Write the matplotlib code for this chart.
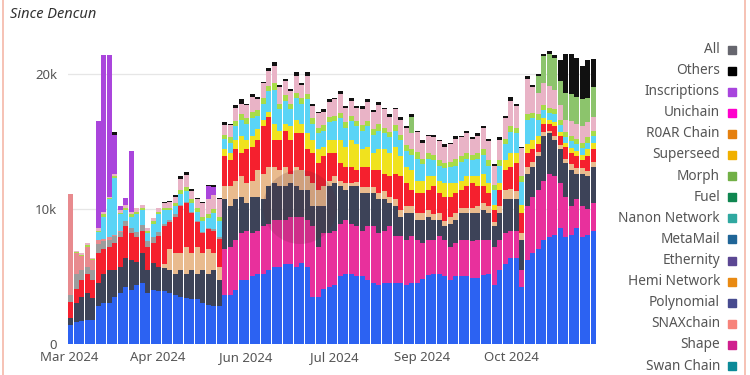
import numpy as np
import matplotlib
matplotlib.use("Agg")
import matplotlib.pyplot as plt
from matplotlib.lines import Line2D
from matplotlib.patches import Ellipse

plt.rcParams["font.family"] = ["Noto Sans", "DejaVu Sans"]

# each bar ~2.8 days since Dencun (2024-03-13), values in thousands of blobs
BIN_DAYS = 2.8

blue = [1.4, 1.65, 1.7, 1.8, 1.8, 2.8, 3.0, 3.0, 3.5, 3.75,
        4.2, 4.0, 4.4, 4.5, 3.75, 4.0, 3.9, 3.9, 3.75, 3.6,
        3.5, 3.4, 3.3, 3.3, 3.0, 2.9, 2.8, 2.8, 3.65, 3.6,
        4.0, 4.7, 4.7, 5.0, 5.2, 5.2, 5.5, 5.7, 5.7, 5.9,
        5.9, 5.7, 6.0, 5.7, 3.5, 3.5, 4.1, 4.25, 4.4, 5.0,
        5.2, 5.2, 5.0, 5.0, 4.7, 4.5, 4.4, 4.5, 4.5, 4.5,
        4.5, 4.4, 4.5, 4.5, 4.8, 5.1, 5.2, 5.2, 5.0, 4.7,
        5.0, 5.0, 5.0, 4.9, 4.9, 5.1, 5.2, 4.4, 5.5, 5.9,
        6.4, 6.4, 4.2, 6.2, 6.7, 7.0, 7.7, 7.9, 8.1, 8.6,
        7.9, 8.1, 8.6, 7.9, 8.1, 8.4]
magenta = [0] * 28 + [
        3.35, 3.6, 3.7, 3.5, 3.7, 3.2, 3.2, 3.5, 3.4, 3.5,
        3.5, 3.3, 3.5, 3.7, 3.4, 3.5, 5.2, 3.7, 4.1, 3.95,
        4.0, 3.9, 4.0, 3.7, 3.7, 3.4, 4.0, 4.2, 3.8, 3.9,
        4.2, 3.5, 3.5, 3.3, 3.5, 3.2, 2.7, 2.6, 2.5, 2.8,
        2.7, 2.5, 2.5, 2.7, 2.7, 2.7, 2.8, 2.6, 2.5, 2.8,
        2.2, 2.3, 2.0, 2.0, 1.3, 4.0, 4.2, 4.4, 4.4, 4.7,
        4.3, 3.3, 3.0, 2.1, 2.1, 2.3, 1.9, 2.0]
slate = [0.5, 1.35, 1.8, 1.95, 1.6, 1.7, 2.2, 2.5, 2.0, 1.95,
         2.2, 2.2, 1.7, 2.2, 1.75, 2.0, 1.8, 1.7, 1.75, 1.6,
         2.0, 1.8, 2.2, 1.9, 2.5, 2.3, 2.7, 1.9, 3.7, 3.0,
         3.0, 2.7, 2.0, 2.7, 2.5, 2.0, 2.8, 2.7, 2.5, 2.5,
         2.5, 2.3, 2.0, 2.2, 1.5, 3.0, 2.0, 3.5, 3.5, 2.8,
         2.2, 2.8, 3.0, 2.8, 2.5, 2.5, 2.5, 2.3, 1.7, 2.2,
         1.4, 2.0, 1.7, 1.5, 1.7, 1.7, 1.5, 1.2, 1.0, 1.7,
         1.7, 2.0, 2.0, 2.1, 2.0, 2.2, 2.0, 1.5, 2.0, 2.5,
         2.3, 2.3, 2.2, 2.4, 2.2, 2.5, 3.3, 3.0, 2.7, 2.5,
         2.5, 2.7, 1.9, 2.4, 2.4, 2.7]
tan = [0] * 17 + [
       0.3, 1.5, 1.5, 1.2, 2.0, 1.2, 2.0,
       1.2, 1.8, 1.2, 1.0, 1.0, 1.5, 1.4, 1.5, 1.5, 1.2,
       2.0, 1.9, 1.4, 1.2, 1.2, 1.4, 0.7, 1.4, 1.5, 1.0,
       1.7, 1.2, 1.5, 0.4, 0.5, 0.4, 0.5, 0.2, 0.3, 0.4,
       0.4, 0.4, 0.5, 0.6, 0.5, 0.5, 0.5, 0.5, 0.5, 0.5,
       0.5, 0.5, 0.4, 0.5, 0.4, 0.5, 0.5, 0.4, 0.4, 0.4,
       0.5, 0.5, 0.5, 0.3, 0.5, 0.7, 0.8, 0.6, 0.5, 0.5,
       0.4, 0.3, 0.3, 0.2, 0.3, 0.3, 0.3, 0.4, 0.4, 0.4,
       0.4, 0.4]
red = [1.2, 1.1, 1.2, 1.45, 1.3, 2.2, 1.8, 1.7, 2.0, 2.2,
       2.3, 2.0, 1.8, 1.7, 1.7, 1.5, 2.3, 2.8, 2.0, 2.7,
       3.5, 3.2, 3.0, 1.8, 1.5, 1.5, 1.7, 2.1, 2.2, 1.9,
       2.3, 1.7, 2.5, 2.5, 2.2, 3.5, 3.7, 2.0, 2.2, 2.7,
       2.5, 2.5, 2.7, 2.0, 2.2, 2.0, 2.2, 2.0, 1.7, 1.3,
       1.2, 1.2, 0.9, 1.5, 1.5, 1.3, 1.7, 1.3, 1.5, 1.9,
       2.5, 1.7, 1.2, 1.5, 1.5, 1.5, 2.1, 1.5, 1.8, 1.5,
       1.5, 1.3, 1.6, 1.8, 1.5, 1.3, 1.0, 0.9, 1.2, 1.5,
       1.6, 2.1, 1.5, 1.0, 0.9, 0.6, 0.6, 0.5, 0.7, 0.7,
       0.9, 0.8, 0.9, 0.6, 1.1, 0.9]
yellow = [0] * 28 + [
          0.5, 0.5, 0.7, 1.3, 0.7, 0.8, 0.8, 0.5, 0.4, 1.2,
          0.7, 0.5, 1.0, 1.0, 0.7, 1.2, 1.0, 1.0, 0.7, 1.0,
          1.0, 1.7, 1.5, 2.0, 1.9, 1.3, 1.5, 1.2, 1.5, 1.8,
          1.7, 2.0, 1.5, 1.2, 1.5, 0.9, 0.9, 1.0, 0.7, 0.9,
          1.0, 1.0, 0.7, 0.7, 0.7, 0.5, 0.7, 0.9, 0.7, 0.4,
          0.5, 0.7, 1.0, 0.7, 0.6, 0.7, 0.7, 0.6, 0.4, 0.3,
          0.3, 0.3, 0.3, 0.4, 0.4, 0.4, 0.5, 0.5]
gray = [0.5, 1.1, 0.8, 0.5, 0.8, 0.7, 0.6, 0.5, 0.5, 0.4,
        0.4, 0.4, 0.4, 0.4, 0.4, 0.4, 0.3, 0.2, 0.2, 0.2,
        0.1, 0.1, 0.1, 0.1, 0.1, 0.1, 0.1, 0.1] + [0] * 68
salmon = [7.5, 1.5, 1.0, 1.5, 0.7, 0.3, 0.2, 0.2, 0.1, 0.1] + [0] * 86
misc = [0, 0.1, 0.1, 0.2, 0.1, 0.2, 0.2, 0.1, 0.2, 0.2,
        0.2, 0.2, 0.3, 0.2, 0.2, 0.2, 0.3, 0.3, 0.4, 0.5,
        0.8, 0.9, 0.6, 0.6, 1.0, 1.1, 1.0, 1.3, 0.7, 0.9,
        1.0, 0.8, 1.0, 1.1, 0.8, 1.1, 1.1, 1.3, 1.2, 1.1,
        0.9, 1.2, 1.0, 1.3, 0.9, 1.1, 1.0, 1.1, 1.2, 1.4,
        1.1, 1.1, 1.0, 1.2, 1.4, 1.3, 1.4, 1.4, 1.1, 1.2,
        1.1, 1.3, 1.2, 1.5, 1.2, 1.3, 1.3, 1.4, 1.2, 1.3,
        1.5, 1.4, 1.5, 1.2, 1.3, 1.6, 1.4, 1.4, 1.5, 1.5,
        1.9, 1.6, 2.1, 2.6, 1.9, 1.6, 1.6, 1.6, 1.4, 1.1,
        0.9, 1.1, 1.1, 1.2, 1.1, 1.0]
lime = [0, 0.1, 0.1, 0.1, 0.1, 0.1, 0.2, 0.1, 0.1, 0.1,
        0.2, 0.2, 0.2, 0.2, 0.2, 0.2, 0.2, 0.2, 0.2, 0.2,
        0.3, 0.3, 0.3, 0.3, 0.3, 0.3, 0.3, 0.3, 0.3, 0.4,
        0.4, 0.4, 0.4, 0.5, 0.4, 0.4, 0.4, 0.5, 0.4, 0.4,
        0.4, 0.4, 0.4, 0.4, 0.4, 0.4, 0.4, 0.4, 0.4, 0.4,
        0.4, 0.4, 0.4, 0.4, 0.4, 0.4, 0.5, 0.4, 0.4, 0.4,
        0.4, 0.4, 0.4, 0.5, 0.4, 0.4, 0.4, 0.4, 0.4, 0.4,
        0.5, 0.4, 0.4, 0.4, 0.4, 0.4, 0.4, 0.4, 0.4, 0.4,
        0.4, 0.4, 0.4, 0.4, 0.4, 0.4, 0.4, 0.4, 0.4, 0.4,
        0.4, 0.4, 0.4, 0.4, 0.4, 0.4]
cyan = [0, 0, 0, 0, 0, 0.6, 1.6, 2.8, 4.2, 1.2,
        0.8, 0.8, 1.3, 1.1, 0.6, 1.0, 1.3, 1.0, 0.7, 0.6,
        0.8, 0.8, 0.6, 0.7, 0.8, 0.7, 1.2, 1.2, 0.8, 0.8,
        1.0, 1.2, 1.2, 1.3, 1.0, 1.2, 1.5, 2.5, 1.6, 1.7,
        1.3, 1.6, 1.5, 2.5, 1.2, 1.2, 1.2, 1.3, 1.4, 1.6,
        1.4, 1.4, 1.3, 1.4, 1.5, 1.4, 1.4, 1.2, 1.2, 1.2,
        1.2, 1.2, 1.1, 1.6, 1.2, 1.3, 1.2, 1.1, 1.1, 1.2,
        1.3, 1.4, 1.3, 1.2, 1.3, 1.4, 1.3, 1.1, 1.3, 1.2,
        1.6, 1.5, 1.7, 1.8, 1.6, 1.2, 0.6, 0.5, 0.6, 0.5,
        0.4, 0.5, 0.5, 0.5, 0.5, 0.5]
morph = [0] * 62 + [1.2] + [0] * 22 + [1.2, 2.0, 2.4, 2.4, 1.8, 2.0, 2.0, 2.0, 2.0, 1.8, 2.2]
inscriptions = [0] * 5 + [7.9, 11.6, 10.5, 2.9, 0.3, 0.5, 4.5] + [0] * 13 + [1.0, 0.6] + [0] * 69
others = [0, 0, 0, 0, 0, 0, 0, 0, 0.2, 0,
          0, 0, 0, 0, 0, 0, 0, 0.1, 0.1, 0.1,
          0.2, 0.2, 0.15, 0.1, 0.1, 0.1, 0.15, 0.1, 0.2, 0.1,
          0.2, 0.3, 0.1, 0.2, 0.2, 0.1, 0.2, 0.3, 0.2, 0.1,
          0.2, 0.3, 0.1, 0.3, 0.2, 0.1, 0.2, 0.2, 0.1, 0.2,
          0.1, 0.2, 0.1, 0.2, 0.2, 0.1, 0.2, 0.1, 0.2, 0.1,
          0.2, 0.1, 0.2, 0.1, 0.2, 0.1, 0.2, 0.1, 0.2, 0.1,
          0.2, 0.1, 0.2, 0.1, 0.2, 0.1, 0.2, 0.1, 0.2, 0.2,
          0.3, 0.2, 0.1, 0.2, 0.2, 0.2, 0.2, 0.2, 0.2, 1.5,
          2.9, 3.0, 2.9, 2.5, 2.8, 2.1]

# stacking order, bottom to top
layers = [
    (blue, "#2c62f2"), (magenta, "#e8309c"), (slate, "#3d4358"),
    (tan, "#e9bb8e"), (red, "#f5202e"), (yellow, "#f0e21e"),
    (gray, "#9c9c9c"), (salmon, "#e88a8e"), (cyan, "#5ad4f6"),
    (lime, "#a8dc48"), (misc, "#e9b3c6"), (morph, "#8cc46c"),
    (inscriptions, "#aa45dc"), (others, "#111111"),
]

legend_names = ["All", "Others", "Inscriptions", "Unichain", "R0AR Chain", "Superseed",
                "Morph", "Fuel", "Nanon Network", "MetaMail", "Ethernity",
                "Hemi Network", "Polynomial", "SNAXchain", "Shape", "Swan Chain"]
legend_colors = ["#66666e", "#000000", "#a844dd", "#ff00cc", "#e5800f", "#f0b000",
                 "#72b046", "#0f8650", "#2fa8a0", "#1f6597", "#5b4793",
                 "#e98a12", "#474b8f", "#f7837a", "#d01f8e", "#0b8a98"]

W, H = 750, 375
fig = plt.figure(figsize=(7.5, 3.75), dpi=100)
ax = fig.add_axes([68 / W, 1 - 344 / H, (596 - 68) / W, (344 - 40) / H])

n = len(blue)
x = (np.arange(n) + 0.5) * BIN_DAYS
bottom = np.zeros(n)
for vals, col in layers:
    v = np.asarray(vals, float)
    ax.bar(x, v, width=BIN_DAYS * 0.86, bottom=bottom, color=col, linewidth=0, zorder=2)
    bottom += v

ax.set_xlim(0, n * BIN_DAYS)
ax.set_ylim(0, 22.5)
ax.set_yticks([0, 10, 20])
ax.set_yticklabels(["0", "10k", "20k"])
ax.set_xticks([0.5, 45.5, 90.5, 135.5, 180.5, 225.5])
ax.set_xticklabels(["Mar 2024", "Apr 2024", "Jun 2024", "Jul 2024", "Sep 2024", "Oct 2024"])
ax.tick_params(length=0, labelsize=9.5, labelcolor="#555555")
ax.tick_params(axis="y", pad=8)
ax.tick_params(axis="x", pad=5)
ax.grid(axis="y", color="#e6e6e6", lw=0.9, zorder=0)
for s in ax.spines.values():
    s.set_visible(False)

# watermark
fig.add_artist(Ellipse((300 / W, 1 - 207 / H), 74 / W, 74 / H, transform=fig.transFigure,
                       color="#5a2a34", alpha=0.18, lw=0, zorder=5))

fig.text(10 / W, 1 - 15 / H, "Since Dencun", fontsize=10.5, style="italic", color="#333333",
         va="center", ha="left")

for k, (name, col) in enumerate(zip(legend_names, legend_colors)):
    yy = 1 - (49.5 + 21.1 * k) / H
    fig.text(720 / W, yy, name, ha="right", va="center", fontsize=9.8, color="#555555")
    fig.add_artist(Line2D([731.5 / W], [yy], marker="s", ms=6.3, color=col, lw=0,
                          transform=fig.transFigure))

# card borders
for xb in (2.5, 744.5):
    fig.add_artist(Line2D([xb / W, xb / W], [0, 1], color="#f5b8a8", lw=1.2,
                          transform=fig.transFigure))

fig.savefig("out.png", dpi=100)
